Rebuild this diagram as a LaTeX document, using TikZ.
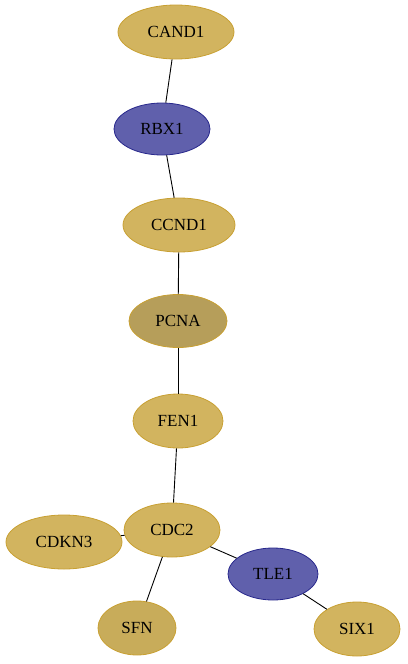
\documentclass[tikz,border=0pt]{standalone}
\usepackage{fontspec}
\setmainfont{Liberation Serif}
\usetikzlibrary{shapes.geometric}
\definecolor{goldA}{RGB}{210,180,95}
\definecolor{goldB}{RGB}{182,158,90}
\definecolor{goldC}{RGB}{200,172,90}
\definecolor{goldEdge}{RGB}{200,160,50}
\definecolor{blueA}{RGB}{96,96,172}
\definecolor{blueEdge}{RGB}{40,40,140}
\tikzset{
	gene/.style={ellipse, draw=goldEdge, fill=goldA, line width=0.8pt, inner sep=0pt, font=\fontsize{17}{17}\selectfont},
	blue gene/.style={gene, draw=blueEdge, fill=blueA},
	link/.style={line width=0.9pt, color=black}
}

\begin{document}
\begin{tikzpicture}[x=1pt, y=-1pt]
		%%%%% START %%%%%
		
		\useasboundingbox (0, 0) rectangle (407, 664);
		
		\node[gene, minimum width=116pt, minimum height=54pt] (cand1) at (176, 32) {CAND1};
		\node[blue gene, minimum width=96pt, minimum height=52pt] (rbx1) at (162, 129) {RBX1};
		\node[gene, minimum width=112pt, minimum height=54pt] (ccnd1) at (179, 225) {CCND1};
		\node[gene, fill=goldB, minimum width=98pt, minimum height=53pt] (pcna) at (178, 321) {PCNA};
		\node[gene, minimum width=90pt, minimum height=54pt] (fen1) at (178, 421) {FEN1};
		
		\node[gene, minimum width=96pt, minimum height=54pt] (cdc2) at (172, 530) {CDC2};
		\node[gene, minimum width=116pt, minimum height=54pt] (cdkn3) at (64, 542) {CDKN3};
		\node[blue gene, minimum width=90pt, minimum height=52pt] (tle1) at (273, 574) {TLE1};
		\node[gene, fill=goldC, minimum width=78pt, minimum height=54pt] (sfn) at (137, 628) {SFN};
		\node[gene, minimum width=86pt, minimum height=54pt] (six1) at (357, 629) {SIX1};
		
		\draw[link] (cand1) -- (rbx1);
		\draw[link] (rbx1) -- (ccnd1);
		\draw[link] (ccnd1) -- (pcna);
		\draw[link] (pcna) -- (fen1);
		\draw[link] (fen1) -- (cdc2);
		\draw[link] (cdc2) -- (cdkn3);
		\draw[link] (cdc2) -- (sfn);
		\draw[link] (cdc2) -- (tle1);
		\draw[link] (tle1) -- (six1);
		
		%%%%% END %%%%%
	\end{tikzpicture}
\end{document}
